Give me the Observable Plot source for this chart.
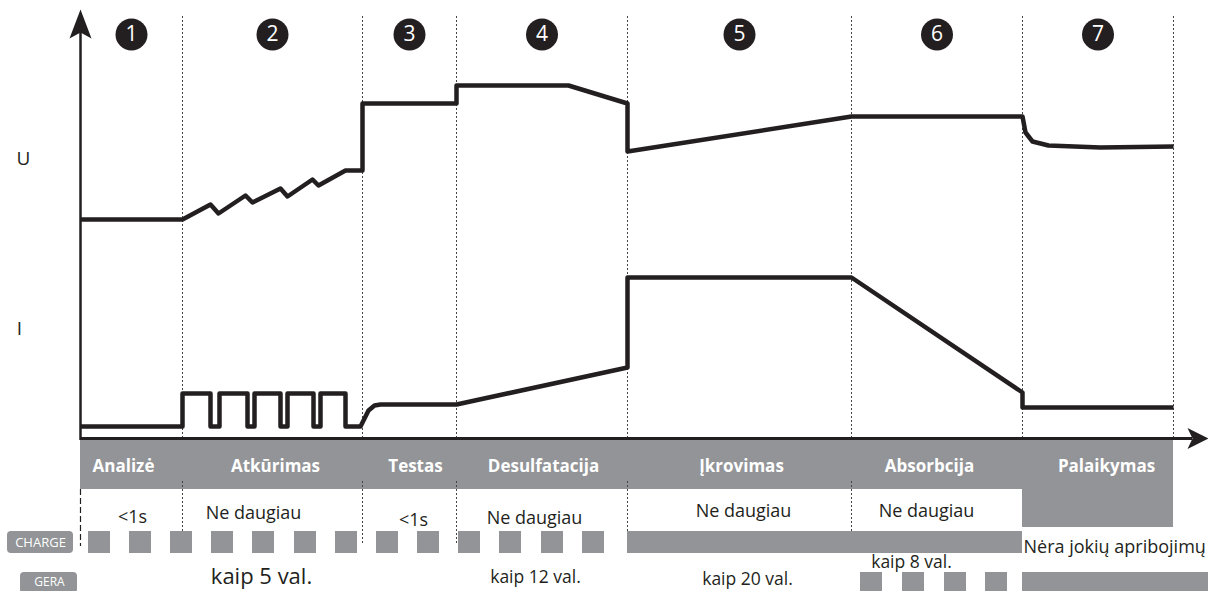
<!DOCTYPE html>
<html><head><meta charset="utf-8">
<script src="https://cdn.jsdelivr.net/npm/d3@7"></script>
<script src="https://cdn.jsdelivr.net/npm/@observablehq/plot@0.6"></script>
<style>html,body{margin:0;padding:0;background:#fff;overflow:hidden}#chart svg{display:block}</style>
</head><body><div id="chart"></div>
<script>
// ---- data (time units along x, level units along y) ----
const phaseBounds = [0, 102, 282, 376, 547, 771, 942, 1093];
const phaseNames = ["Analizė", "Atkūrimas", "Testas", "Desulfatacija", "Įkrovimas", "Absorbcija", "Palaikymas"];
const phaseNums = ["1", "2", "3", "4", "5", "6", "7"];

const uT = [0, 102, 130, 138, 165, 172, 200, 207, 232, 238, 265, 282, 282, 376, 376, 488, 547, 547, 771, 942, 945, 952, 968, 1020, 1093];
const uV = [219, 219, 234, 225, 243, 236, 250, 242, 259, 253, 268, 268, 335, 335, 353, 353, 335, 287, 322, 322, 306, 297, 293, 291, 292];

const iT = [0, 102, 102, 130, 130, 139, 139, 167, 167, 174, 174, 200, 200, 207, 207, 233, 233, 240, 240, 265, 265, 280, 284, 288, 294, 300, 376, 547, 547, 771, 942, 942, 1093];
const iV = [12, 12, 45, 45, 12, 12, 45, 45, 12, 12, 45, 45, 12, 12, 45, 45, 12, 12, 45, 45, 12, 12, 20, 28, 33, 34, 34, 71, 161, 161, 46, 31, 31];

const durationText = ["<1s", "Ne daugiau", "<1s", "Ne daugiau", "Ne daugiau", "Ne daugiau"];
const kaipText = ["kaip 5 val.", "kaip 12 val.", "kaip 20 val.", "kaip 8 val."];
const noLimitText = "Nėra jokių apribojimų";

const chargePulses = [8, 49, 90, 131, 172, 214, 255, 296, 337, 378, 419, 461, 502];
const chargeSteady = [[547, 942]];
const geraPulses = [780, 822, 864, 905];
const geraSteady = [[942, 1128]];

// ---- layout (annotation placement, in the same units) ----
const labelX = [43, 195, 335, 463, 661, 849, 1026];
const durationX = [52, 173, 333, 454, 663, 846];
const durationY = [-79, -75, -82, -80, -73, -73];
const kaipX = [181, 455, 667, 831];
const kaipY = [-138, -139, -141, -124];
const kaipFont = ["Liberation Sans", "Open Sans", "Open Sans", "Open Sans"];
const kaipSize = [22, 17.5, 17.5, 17.5];

const ink = "#231f20";
const grey = "#929497";
const pulseW = 22;

const uData = uT.map((t, k) => ({t, v: uV[k]}));
const iData = iT.map((t, k) => ({t, v: iV[k]}));
const phases = phaseNames.map((name, k) => ({
  name, num: phaseNums[k], x1: phaseBounds[k], x2: phaseBounds[k + 1],
  mid: (phaseBounds[k] + phaseBounds[k + 1]) / 2, lx: labelX[k]
}));
const durations = durationText.map((s, k) => ({s, x: durationX[k], y: durationY[k]}));
const kaips = kaipText.map((s, k) => ({s, x: kaipX[k], y: kaipY[k], f: kaipFont[k], z: kaipSize[k]}));

const yHead = [{t: 0, v: 429}, {t: -11, v: 400}, {t: 0, v: 406}, {t: 11, v: 400}, {t: 0, v: 429}];
const xHead = [{t: 1128, v: 0}, {t: 1107, v: 10.5}, {t: 1112, v: 0}, {t: 1107, v: -10.5}, {t: 1128, v: 0}];

const chart = Plot.plot({
  width: 1208, height: 591, margin: 0,
  x: {domain: [-80, 1128], axis: null},
  y: {domain: [-153, 438], axis: null},
  style: {fontFamily: "Open Sans, sans-serif", background: "white", overflow: "hidden"},
  marks: [
    // upper dotted dividers
    Plot.ruleX(phaseBounds.slice(1), {y1: 0, y2: 423, stroke: "#444", strokeWidth: 1, strokeDasharray: "2,2"}),
    // phase band
    Plot.rect([{x1: 0, x2: 942}], {x1: "x1", x2: "x2", y1: -51, y2: -2, fill: grey, inset: 0}),
    Plot.rect([{x1: 942, x2: 1093}], {x1: "x1", x2: "x2", y1: -89, y2: -2, fill: grey, inset: 0}),
    Plot.text(phases, {x: "lx", y: -28, text: "name", fill: "white", fontSize: 17, fontWeight: 700}),
    // lower dividers
    Plot.ruleX(phaseBounds.slice(1, 6), {y1: -43, y2: -105, stroke: "#444", strokeWidth: 1, strokeDasharray: "2,2"}),
    Plot.ruleX([0], {y1: -51, y2: -108, stroke: ink, strokeWidth: 1.2, strokeDasharray: "6,3"}),
    // axes
    Plot.ruleX([0], {y1: -2, y2: 410, stroke: ink, strokeWidth: 2.5}),
    Plot.ruleY([0], {x1: 0, x2: 1112, stroke: ink, strokeWidth: 3}),
    Plot.line(yHead, {x: "t", y: "v", fill: ink, stroke: null}),
    Plot.line(xHead, {x: "t", y: "v", fill: ink, stroke: null}),
    // phase numbers
    Plot.dot(phases, {x: "mid", y: 404, r: 16, fill: ink, stroke: null}),
    Plot.text(phases, {x: "mid", y: 404, text: "num", fill: "white", fontSize: 21}),
    // curves
    Plot.line(uData, {x: "t", y: "v", stroke: ink, strokeWidth: 4.5, strokeLinejoin: "round", strokeLinecap: "butt"}),
    Plot.line(iData, {x: "t", y: "v", stroke: ink, strokeWidth: 4.5, strokeLinejoin: "round", strokeLinecap: "butt"}),
    Plot.text(["U"], {x: -57, y: 280, text: d => d, fill: ink, fontSize: 19}),
    Plot.text(["I"], {x: -61, y: 110, text: d => d, fill: ink, fontSize: 19}),
    // durations
    Plot.text(durations, {x: "x", y: "y", text: "s", fill: ink, fontSize: 18}),
    Plot.text(kaips, {x: "x", y: "y", text: "s", fill: ink, fontSize: d => d.z, fontFamily: d => d.f}),
    Plot.text([noLimitText], {x: 943, y: -109, text: d => d, fill: ink, fontSize: 18, textAnchor: "start"}),
    // CHARGE row
    Plot.rect([{x1: -73, x2: -7}], {x1: "x1", x2: "x2", y1: -115, y2: -93, fill: grey, rx: 4, inset: 0}),
    Plot.text(["CHARGE"], {x: -40, y: -104, text: d => d, fill: "white", fontSize: 13}),
    Plot.rect(chargePulses, {x1: d => d, x2: d => d + pulseW, y1: -115, y2: -93, fill: grey, inset: 0}),
    Plot.rect(chargeSteady, {x1: d => d[0], x2: d => d[1], y1: -115, y2: -93, fill: grey, inset: 0}),
    // GERA row
    Plot.rect([{x1: -60, x2: -3}], {x1: "x1", x2: "x2", y1: -155, y2: -134, fill: grey, rx: 4, inset: 0}),
    Plot.text(["GERA"], {x: -31, y: -144, text: d => d, fill: "white", fontSize: 12}),
    Plot.rect(geraPulses, {x1: d => d, x2: d => d + pulseW, y1: -155, y2: -134, fill: grey, inset: 0}),
    Plot.rect(geraSteady, {x1: d => d[0], x2: d => d[1], y1: -155, y2: -134, fill: grey, inset: 0})
  ]
});
document.getElementById("chart").appendChild(chart);
</script>
</body></html>
